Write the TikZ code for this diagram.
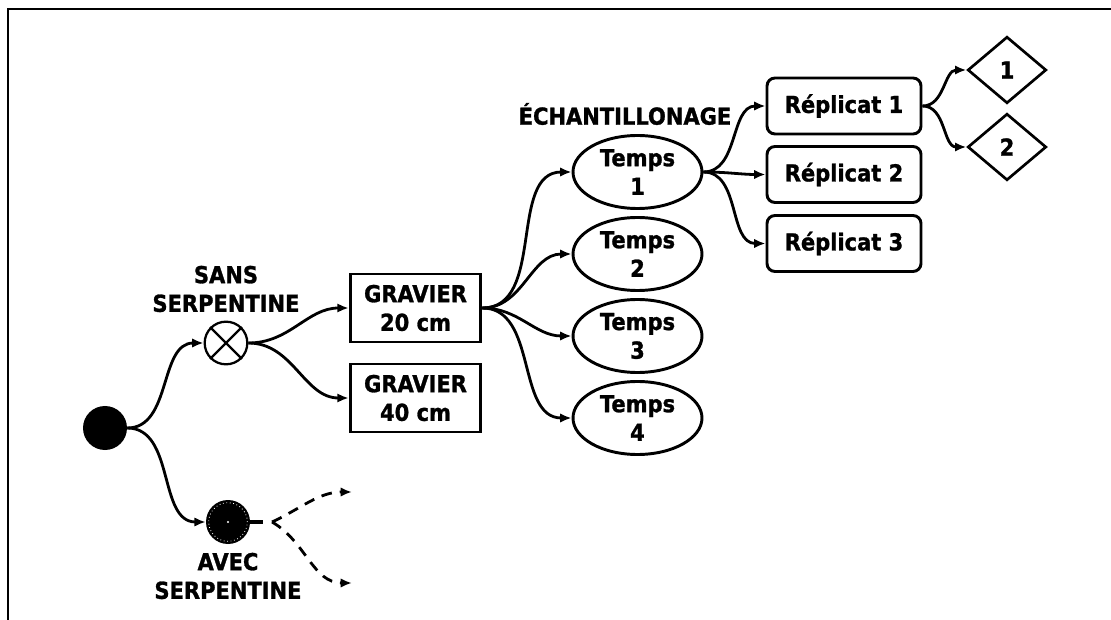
\documentclass[tikz,border=0pt]{standalone}
\usepackage{fontspec}
\setmainfont{DejaVu Sans}[FakeStretch=0.9,BoldFeatures={FakeBold=1.2}]
\usetikzlibrary{shapes.geometric,arrows.meta}
\begin{document}
\begin{tikzpicture}[x=0.75pt,y=0.75pt,
  font=\bfseries\fontsize{17.5}{21.5}\selectfont,
  conn/.style={line width=2.1pt,-{Latex[length=8.5pt,width=7pt]}},
  dconn/.style={conn,dash pattern=on 8pt off 6pt},
  dotnode/.style={circle,fill=black,minimum size=33pt,inner sep=0pt},
  xnode/.style={circle,draw,line width=1.7pt,fill=white,minimum size=32pt,inner sep=0pt},
  lbl/.style={align=center,inner sep=0pt},
  gravnode/.style={draw,line width=2.2pt,minimum width=98pt,minimum height=51pt,align=center,inner sep=0pt},
  tempsnode/.style={ellipse,draw,line width=2.2pt,minimum width=96.75pt,minimum height=54.75pt,align=center,inner sep=0pt},
  repnode/.style={draw,rounded corners=6pt,line width=2.2pt,minimum width=115.5pt,minimum height=42pt,inner sep=0pt},
  diamnode/.style={diamond,draw,line width=2pt,minimum width=59pt,minimum height=50pt,inner sep=0pt}
]
\useasboundingbox (0,0) rectangle (1111,-620);
\draw[line width=1.8pt] (1111,-9) -- (8,-9) -- (8,-620);

% left part
\node[dotnode] (root) at (105,-428) {};
\node[xnode] (sans) at (226,-343) {};
\draw[line width=1.7pt] (sans.45) -- (sans.225) (sans.135) -- (sans.315);
\node[lbl] (sanslbl) at (226,-289) {SANS\\SERPENTINE};
\node[dotnode] (avec) at (228,-522) {};
\draw[white,dotted,line width=0.6pt] (avec) circle[radius=14.5pt];
\fill[white] (avec) circle[radius=0.8pt];
\node[lbl] (aveclbl) at (228,-576) {AVEC\\SERPENTINE};
\coordinate (stubend) at (263,-522);
\draw[line width=3.2pt] (avec.east) -- (stubend);
\coordinate (dstart) at (272,-522);
\coordinate (dup) at (352,-492);
\coordinate (ddown) at (352,-583);
\draw[dconn] (dstart) to[out=25,in=180] (dup);
\draw[dconn] (dstart) to[out=-30,in=180] (ddown);

\draw[conn] (root.east) to[out=0,in=180] (sans.west);
\draw[conn] (root.east) to[out=0,in=180] (avec.west);

% gravier
\node[gravnode] (g20) at (415.5,-308) {GRAVIER\\20 cm};
\node[gravnode] (g40) at (415.5,-398) {GRAVIER\\40 cm};
\draw[conn] (sans.east) to[out=0,in=180] (g20.west);
\draw[conn] (sans.east) to[out=0,in=180] (g40.west);

% temps
\node[lbl] (echlbl) at (625,-114) {ÉCHANTILLONAGE};
\node[tempsnode] (t1) at (637.5,-172) {Temps\\1};
\node[tempsnode] (t2) at (637.5,-254) {Temps\\2};
\node[tempsnode] (t3) at (637.5,-336) {Temps\\3};
\node[tempsnode] (t4) at (637.5,-418) {Temps\\4};
\foreach \t in {t1,t2,t3,t4}
  \draw[conn] (g20.east) to[out=0,in=180] (\t.west);

% replicats
\node[repnode] (r1) at (844,-106) {Réplicat 1};
\node[repnode] (r2) at (844,-174.5) {Réplicat 2};
\node[repnode] (r3) at (844,-243.5) {Réplicat 3};
\foreach \r in {r1,r2,r3}
  \draw[conn] (t1.east) to[out=0,in=180] (\r.west);

% diamonds
\node[diamnode] (d1) at (1007,-70) {1};
\node[diamnode] (d2) at (1007,-147) {2};
\draw[conn] (r1.east) to[out=0,in=180] (d1.west);
\draw[conn] (r1.east) to[out=0,in=180] (d2.west);
\end{tikzpicture}
\end{document}
